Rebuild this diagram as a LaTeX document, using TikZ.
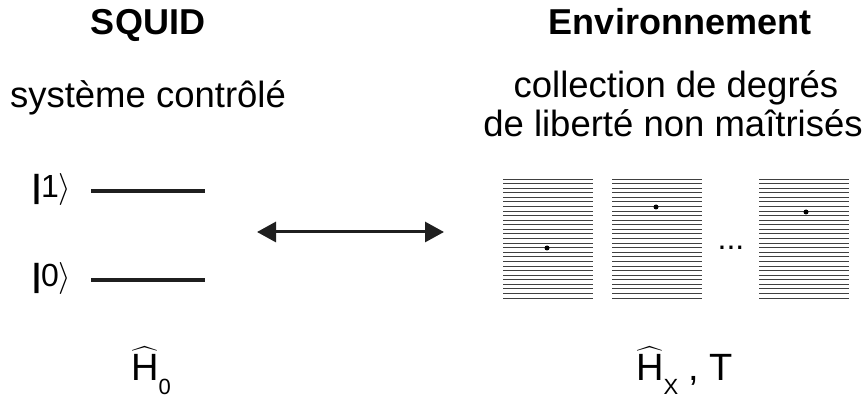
\documentclass[tikz,border=0pt]{standalone}
\usepackage{fix-cm}
\usepackage{amsmath}
\usepackage{fontspec}
\setmainfont{Liberation Sans}
\usetikzlibrary{positioning, arrows.meta}

\begin{document}
\begin{tikzpicture}[
        x=1pt, y=1pt,
        title/.style={font=\fontsize{36}{40}\selectfont\bfseries, anchor=base},
        label/.style={font=\fontsize{36.5}{40}\selectfont, anchor=base, align=center},
        ket/.style={font=\fontsize{32}{34}\selectfont, anchor=base west, inner sep=0pt},
        ham/.style={font=\fontsize{38}{40}\selectfont, anchor=base west, inner sep=0pt},
        level/.style={line width=4pt, black!88},
        band/.style={line width=0.9pt, black!75},
        dot/.style={circle, fill, inner sep=0pt, minimum size=5pt}
    ]
    \useasboundingbox (0,0) rectangle (868,399);

    % Define positions for the two sides
    \def\spos{148}
    \def\epos{673}
    \def\boxtop{220}
    \def\boxsep{4.577} % Vertical separation between band lines

    % Titles and descriptions
    \node[title] (sqtitle) at (\spos, 364) {SQUID};
    \node[title] (envtitle) at (680, 364) {Environnement};
    \node[label] (sqdesc) at (\spos, 291) {système contrôlé};
    \node[label] (envdesc1) at (676, 301) {collection de degrés};
    \node[label] (envdesc2) at (\epos, 262) {de liberté non maîtrisés};

    % Draw the two levels of the controlled system
    \node[ket] (ket1) at (32, 201) {\textbf{|}1$\rangle$};
    \node[ket] (ket0) at (32, 112) {\textbf{|}0$\rangle$};
    \coordinate (l1a) at (91, 208);
    \coordinate (l1b) at (205, 208);
    \coordinate (l0a) at (91, 119);
    \coordinate (l0b) at (205, 119);
    \draw[level] (l1a) -- (l1b);
    \draw[level] (l0a) -- (l0b);

    % Draw the coupling arrow
    \coordinate (cpl) at (257, 167);
    \coordinate (cpr) at (444, 167);
    \draw[line width=3pt, black!88, {Triangle[length=19pt,width=20pt]}-{Triangle[length=19pt,width=20pt]}] (cpl) -- (cpr);

    % Draw the environment boxes (many levels each)
    \foreach \bx in {503, 612, 759}
        \foreach \i in {0,...,26}
            \draw[band] (\bx, \boxtop-\i*\boxsep) -- ++(90, 0);

    % Occupied levels
    \node[dot] (occ1) at (547, 151) {};
    \node[dot] (occ2) at (656, 192) {};
    \node[dot] (occ3) at (806, 187) {};
    \node[label, font=\fontsize{32}{34}\selectfont] (more) at (731, 149) {...};

    % Hamiltonians
    \node[ham] (ham0) at (131, 18) {$\widehat{\text{H}}$\raisebox{-14pt}{\fontsize{22}{24}\selectfont 0}};
    \node[ham] (hamx) at (636, 18) {$\widehat{\text{H}}$\raisebox{-14pt}{\fontsize{22}{24}\selectfont X} , T};

\end{tikzpicture}
\end{document}
